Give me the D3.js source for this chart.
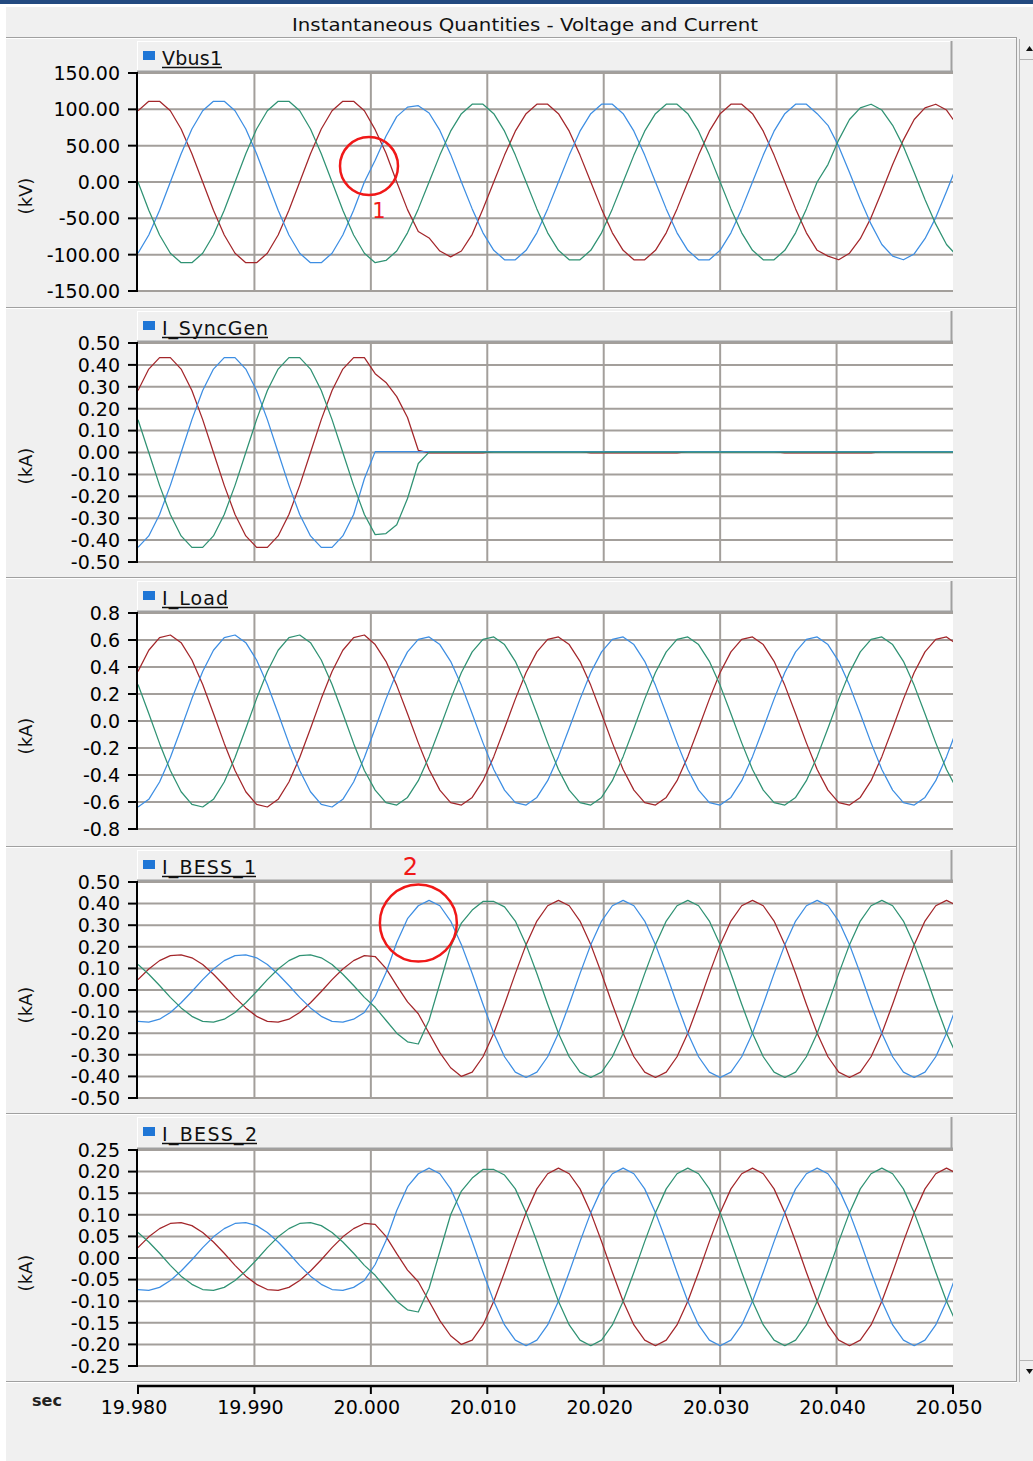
<!DOCTYPE html>
<html>
<head>
<meta charset="utf-8">
<title>Instantaneous Quantities - Voltage and Current</title>
<script src="https://cdn.jsdelivr.net/npm/d3@7"></script>
<style>
  html, body { margin: 0; padding: 0; background: #f0f0f0; }
  svg { display: block; font-family: "DejaVu Sans", Verdana, sans-serif; }
</style>
</head>
<body>
<svg id="chart" width="1033" height="1461"></svg>
<script>
// ---- sample times (s), simulation output step 1/1080 s ----
const timeSec = [19.980000,19.980926,19.981852,19.982778,19.983704,19.984630,19.985556,19.986481,19.987407,19.988333,
19.989259,19.990185,19.991111,19.992037,19.992963,19.993889,19.994815,19.995741,19.996667,19.997593,
19.998519,19.999444,20.000370,20.001296,20.002222,20.003148,20.004074,20.005000,20.005926,20.006852,
20.007778,20.008704,20.009630,20.010556,20.011481,20.012407,20.013333,20.014259,20.015185,20.016111,
20.017037,20.017963,20.018889,20.019815,20.020741,20.021667,20.022593,20.023519,20.024444,20.025370,
20.026296,20.027222,20.028148,20.029074,20.030000,20.030926,20.031852,20.032778,20.033704,20.034630,
20.035556,20.036481,20.037407,20.038333,20.039259,20.040185,20.041111,20.042037,20.042963,20.043889,
20.044815,20.045741,20.046667,20.047593,20.048519,20.049444,20.050370];

const timeTicks = [19.98, 19.99, 20.00, 20.01, 20.02, 20.03, 20.04, 20.05];

// ---- Vbus1 phase voltages (kV) ----
const vbusA = [98,111,111,98,73,39,0,-39,-73,-98,-111,-111,-98,-73,-39,0,39,73,98,111,111,98,
72,40,0,-38,-68,-77,-95,-103,-95,-72,-37,0,
37,70,94,107,107,94,70,37,
0,-37,-70,-94,-107,-107,-94,-70,-37,
0,37,70,94,107,107,94,70,37,
0,-37,-70,-94,
-102,-107,-98,-78,-49,
-13,24,58,86,102,107,99,78];
const vbusB = [-98,-73,-39,0,39,73,98,111,111,98,73,39,0,-39,-73,-98,-111,-111,-98,-73,-39,0,
30,63,90,103,105,95,71,38,0,
-37,-70,-94,-107,-107,-94,-70,-37,0,
37,70,94,107,107,94,70,37,0,
-37,-70,-94,-107,-107,-94,-70,-37,0,
37,70,94,107,107,94,
78,49,13,-24,-58,
-86,-102,-107,-99,-78,-49,-13,24];
const vbusC = [0,-39,-73,-98,-111,-111,-98,-73,-39,0,39,73,98,111,111,98,73,39,0,-39,-73,-98,
-111,-108,-95,-70,-37,
0,37,70,94,107,107,94,70,37,
0,-37,-70,-94,-107,-107,-94,-70,-37,
0,37,70,94,107,107,94,70,37,
0,-37,-70,-94,-107,-107,-94,-70,-37,
0,
24,58,86,102,107,
99,78,49,13,-24,-58,-86,-102];

// ---- synchronous generator phase currents (kA) ----
const syncA = [0.283,0.381,0.433,0.433,0.381,0.283,0.150,0,-0.150,-0.283,-0.381,-0.433,-0.433,-0.381,-0.283,-0.150,0,0.150,0.283,0.381,0.433,0.433,
0.360,0.320,0.255,0.160,0.010,
-0.002,-0.002,-0.002,-0.002,-0.002,-0.002,
0.004,0.004,0.004,0.004,0.004,0.004,0.004,0.004,0.004,
-0.002,-0.002,-0.002,-0.002,-0.002,-0.002,-0.002,-0.002,-0.002,
0.004,0.004,0.004,0.004,0.004,0.004,0.004,0.004,0.004,
-0.002,-0.002,-0.002,-0.002,-0.002,-0.002,-0.002,-0.002,-0.002,
0.004,0.004,0.004,0.004,0.004,0.004,0.004,0.004];
const syncB = [-0.433,-0.381,-0.283,-0.150,0,0.150,0.283,0.381,0.433,0.433,0.381,0.283,0.150,0,-0.150,-0.283,-0.381,-0.433,-0.433,-0.381,-0.283,-0.120,
0.004,0.004,0.004,0.004,0.004,0.004,0.004,0.004,0.004,0.004,0.004,
0.004,0.004,0.004,0.004,0.004,0.004,0.004,0.004,0.004,0.004,0.004,
0.004,0.004,0.004,0.004,0.004,0.004,0.004,0.004,0.004,0.004,0.004,
0.004,0.004,0.004,0.004,0.004,0.004,0.004,0.004,0.004,0.004,0.004,
0.004,0.004,0.004,0.004,0.004,0.004,0.004,0.004,0.004,0.004,0.004];
const syncC = [0.150,0,-0.150,-0.283,-0.381,-0.433,-0.433,-0.381,-0.283,-0.150,0,0.150,0.283,0.381,0.433,0.433,0.381,0.283,0.150,0,-0.150,-0.283,
-0.375,-0.370,-0.330,-0.210,-0.050,
0.002,0.002,0.002,0.002,0.002,0.002,0.002,0.002,0.002,0.002,
0.002,0.002,0.002,0.002,0.002,0.002,0.002,0.002,0.002,0.002,
0.002,0.002,0.002,0.002,0.002,0.002,0.002,0.002,0.002,0.002,
0.002,0.002,0.002,0.002,0.002,0.002,0.002,0.002,0.002,0.002,
0.002,0.002,0.002,0.002,0.002,0.002,0.002,0.002,0.002,0.002];

// ---- load phase currents (kA) ----
const loadA = [0.367,0.524,0.618,0.637,0.580,0.452,0.271,0.056,-0.166,-0.367,-0.524,-0.618,-0.637,-0.580,-0.452,-0.271,-0.056,0.166,0.367,0.524,0.618,0.637,
0.566,0.442,0.264,0.054,-0.162,-0.359,-0.512,-0.604,-0.623,
-0.566,-0.442,-0.264,-0.054,0.162,0.359,0.512,0.604,0.623,
0.566,0.442,0.264,0.054,-0.162,-0.359,-0.512,-0.604,-0.623,
-0.566,-0.442,-0.264,-0.054,0.162,0.359,0.512,0.604,0.623,
0.566,0.442,0.264,0.054,-0.162,-0.359,-0.512,-0.604,-0.623,
-0.566,-0.442,-0.264,-0.054,0.162,0.359,0.512,0.604,0.623,
0.566];
const loadB = [-0.637,-0.580,-0.452,-0.271,-0.056,0.166,0.367,0.524,0.618,0.637,0.580,0.452,0.271,0.056,-0.166,-0.367,-0.524,-0.618,-0.637,-0.580,-0.452,-0.271,
-0.054,0.162,0.359,0.512,0.604,0.623,0.566,0.442,0.264,
0.054,-0.162,-0.359,-0.512,-0.604,-0.623,-0.566,-0.442,-0.264,
-0.054,0.162,0.359,0.512,0.604,0.623,0.566,0.442,0.264,
0.054,-0.162,-0.359,-0.512,-0.604,-0.623,-0.566,-0.442,-0.264,
-0.054,0.162,0.359,0.512,0.604,0.623,0.566,0.442,0.264,
0.054,-0.162,-0.359,-0.512,-0.604,-0.623,-0.566,-0.442,-0.264,
-0.054];
const loadC = [0.271,0.056,-0.166,-0.367,-0.524,-0.618,-0.637,-0.580,-0.452,-0.271,-0.056,0.166,0.367,0.524,0.618,0.637,0.580,0.452,0.271,0.056,-0.166,-0.367,
-0.512,-0.604,-0.623,-0.566,-0.442,-0.264,-0.054,0.162,0.359,
0.512,0.604,0.623,0.566,0.442,0.264,0.054,-0.162,-0.359,
-0.512,-0.604,-0.623,-0.566,-0.442,-0.264,-0.054,0.162,0.359,
0.512,0.604,0.623,0.566,0.442,0.264,0.054,-0.162,-0.359,
-0.512,-0.604,-0.623,-0.566,-0.442,-0.264,-0.054,0.162,0.359,
0.512,0.604,0.623,0.566,0.442,0.264,0.054,-0.162,-0.359,
-0.512];

// ---- BESS 1 phase currents (kA) ----
const bess1A = [0.048,0.097,0.136,0.159,0.163,0.149,0.118,0.073,0.021,-0.034,-0.083,-0.122,-0.145,-0.149,-0.135,-0.104,-0.059,-0.007,0.048,0.097,0.136,0.159,
0.155,0.100,0.020,-0.055,-0.110,-0.200,-0.290,-0.360,-0.400,-0.380,
-0.309,-0.200,-0.066,0.076,0.210,0.319,0.390,0.415,0.390,
0.319,0.210,0.076,-0.066,-0.200,-0.309,-0.380,-0.405,-0.380,
-0.309,-0.200,-0.066,0.076,0.210,0.319,0.390,0.415,0.390,
0.319,0.210,0.076,-0.066,-0.200,-0.309,-0.380,-0.405,-0.380,
-0.309,-0.200,-0.066,0.076,0.210,0.319,0.390,0.415,0.390];
const bess1B = [-0.145,-0.149,-0.135,-0.104,-0.059,-0.007,0.048,0.097,0.136,0.159,0.163,0.149,0.118,0.073,0.021,-0.034,-0.083,-0.122,-0.145,-0.149,-0.135,-0.104,
-0.030,0.080,0.220,0.330,0.390,
0.415,0.390,0.319,0.210,0.076,-0.066,-0.200,-0.309,-0.380,
-0.405,-0.380,-0.309,-0.200,-0.066,0.076,0.210,0.319,0.390,
0.415,0.390,0.319,0.210,0.076,-0.066,-0.200,-0.309,-0.380,
-0.405,-0.380,-0.309,-0.200,-0.066,0.076,0.210,0.319,0.390,
0.415,0.390,0.319,0.210,0.076,-0.066,-0.200,-0.309,-0.380,
-0.405,-0.380,-0.309,-0.200,-0.066];
const bess1C = [0.118,0.073,0.021,-0.034,-0.083,-0.122,-0.145,-0.149,-0.135,-0.104,-0.059,-0.007,0.048,0.097,0.136,0.159,0.163,0.149,0.118,0.073,0.021,-0.034,
-0.080,-0.140,-0.200,-0.240,-0.250,-0.140,0.030,0.200,0.310,0.370,
0.410,0.410,0.385,0.319,0.210,0.076,-0.066,-0.200,-0.309,
-0.380,-0.405,-0.380,-0.309,-0.200,-0.066,0.076,0.210,0.319,
0.390,0.415,0.390,0.319,0.210,0.076,-0.066,-0.200,-0.309,
-0.380,-0.405,-0.380,-0.309,-0.200,-0.066,0.076,0.210,0.319,
0.390,0.415,0.390,0.319,0.210,0.076,-0.066,-0.200,-0.309];

// ---- BESS 2 phase currents (kA) ----
const bess2A = [0.024,0.049,0.068,0.080,0.082,0.075,0.059,0.037,0.011,-0.017,-0.042,-0.061,-0.073,-0.075,-0.068,-0.052,-0.030,-0.004,0.024,0.049,0.068,0.080,
0.078,0.050,0.010,-0.028,-0.055,-0.100,-0.145,-0.180,-0.200,-0.190,
-0.155,-0.100,-0.033,0.038,0.105,0.160,0.195,0.208,0.195,
0.160,0.105,0.038,-0.033,-0.100,-0.155,-0.190,-0.203,-0.190,
-0.155,-0.100,-0.033,0.038,0.105,0.160,0.195,0.208,0.195,
0.160,0.105,0.038,-0.033,-0.100,-0.155,-0.190,-0.203,-0.190,
-0.155,-0.100,-0.033,0.038,0.105,0.160,0.195,0.208,0.195];
const bess2B = [-0.073,-0.075,-0.068,-0.052,-0.030,-0.004,0.024,0.049,0.068,0.080,0.082,0.075,0.059,0.037,0.011,-0.017,-0.042,-0.061,-0.073,-0.075,-0.068,-0.052,
-0.015,0.040,0.110,0.165,0.195,
0.208,0.195,0.160,0.105,0.038,-0.033,-0.100,-0.155,-0.190,
-0.203,-0.190,-0.155,-0.100,-0.033,0.038,0.105,0.160,0.195,
0.208,0.195,0.160,0.105,0.038,-0.033,-0.100,-0.155,-0.190,
-0.203,-0.190,-0.155,-0.100,-0.033,0.038,0.105,0.160,0.195,
0.208,0.195,0.160,0.105,0.038,-0.033,-0.100,-0.155,-0.190,
-0.203,-0.190,-0.155,-0.100,-0.033];
const bess2C = [0.059,0.037,0.011,-0.017,-0.042,-0.061,-0.073,-0.075,-0.068,-0.052,-0.030,-0.004,0.024,0.049,0.068,0.080,0.082,0.075,0.059,0.037,0.011,-0.017,
-0.040,-0.070,-0.100,-0.120,-0.125,-0.070,0.015,0.100,0.155,0.185,
0.205,0.205,0.192,0.160,0.105,0.038,-0.033,-0.100,-0.155,
-0.190,-0.203,-0.190,-0.155,-0.100,-0.033,0.038,0.105,0.160,
0.195,0.208,0.195,0.160,0.105,0.038,-0.033,-0.100,-0.155,
-0.190,-0.203,-0.190,-0.155,-0.100,-0.033,0.038,0.105,0.160,
0.195,0.208,0.195,0.160,0.105,0.038,-0.033,-0.100,-0.155];

// ---- axis ticks and labels ----
const vbusTicks  = [150, 100, 50, 0, -50, -100, -150];
const syncTicks  = [0.5, 0.4, 0.3, 0.2, 0.1, 0, -0.1, -0.2, -0.3, -0.4, -0.5];
const loadTicks  = [0.8, 0.6, 0.4, 0.2, 0, -0.2, -0.4, -0.6, -0.8];
const bess1Ticks = [0.5, 0.4, 0.3, 0.2, 0.1, 0, -0.1, -0.2, -0.3, -0.4, -0.5];
const bess2Ticks = [0.25, 0.2, 0.15, 0.1, 0.05, 0, -0.05, -0.1, -0.15, -0.2, -0.25];

const panelNames = ["Vbus1", "I_SyncGen", "I_Load", "I_BESS_1", "I_BESS_2"];
const panelUnits = ["(kV)", "(kA)", "(kA)", "(kA)", "(kA)"];
const tickDigits = [2, 2, 1, 2, 2];

// red circle call-outs: panel index, time, value, radius (px), label
const callouts = [
  { panel: 0, t: 19.99984, v: 22,   r: 29,   label: "1" },
  { panel: 3, t: 20.00408, v: 0.31, r: 38.5, label: "2" }
];

// ---- drawing ----
const phaseColors = ["#a3262a", "#3d8ee3", "#2f9273"];

const panels = [
  { series: [vbusA, vbusB, vbusC],    ticks: vbusTicks,  sep: 37,   top: 73,   bottom: 291,  nameW: 60 },
  { series: [syncA, syncB, syncC],    ticks: syncTicks,  sep: 307,  top: 343,  bottom: 562,  nameW: 106 },
  { series: [loadA, loadB, loadC],    ticks: loadTicks,  sep: 577,  top: 613,  bottom: 829,  nameW: 66 },
  { series: [bess1A, bess1B, bess1C], ticks: bess1Ticks, sep: 846,  top: 882,  bottom: 1098, nameW: 94 },
  { series: [bess2A, bess2B, bess2C], ticks: bess2Ticks, sep: 1113, top: 1150, bottom: 1366, nameW: 95 }
];

const svg = d3.select("#chart");
const plotLeft = 138, plotRight = 953;
const x = d3.scaleLinear().domain([timeTicks[0], timeTicks[timeTicks.length - 1]]).range([plotLeft, plotRight]);

// plain hyphen-minus for negative tick labels
const numFmt = digits => {
  const f = d3.format("." + digits + "f");
  return v => f(v).replace("\u2212", "-");
};

// window frame
svg.append("rect").attr("width", 1033).attr("height", 1461).attr("fill", "#f0f0f0");
svg.append("rect").attr("x", 0).attr("y", 0).attr("width", 1033).attr("height", 4).attr("fill", "#234a80");
svg.append("rect").attr("x", 0).attr("y", 4).attr("width", 1033).attr("height", 3).attr("fill", "#ffffff");
svg.append("rect").attr("x", 0).attr("y", 4).attr("width", 6).attr("height", 1457).attr("fill", "#ffffff");

// title
svg.append("text")
  .attr("x", 292).attr("y", 30.5)
  .attr("font-size", 18).attr("fill", "#111")
  .attr("textLength", 466).attr("lengthAdjust", "spacingAndGlyphs")
  .text("Instantaneous Quantities - Voltage and Current");

// panel separators
[37, 307, 577, 846, 1113, 1381].forEach(s => {
  svg.append("line").attr("x1", 6).attr("x2", 1017).attr("y1", s + 0.5).attr("y2", s + 0.5)
    .attr("stroke", "#a0a0a0").attr("stroke-width", 1);
  svg.append("line").attr("x1", 6).attr("x2", 1017).attr("y1", s + 1.5).attr("y2", s + 1.5)
    .attr("stroke", "#ffffff").attr("stroke-width", 1);
});

// scrollbar strip
const sb = svg.append("g");
sb.append("line").attr("x1", 1016.5).attr("x2", 1016.5).attr("y1", 37).attr("y2", 1382).attr("stroke", "#a0a0a0");
sb.append("line").attr("x1", 1019.5).attr("x2", 1019.5).attr("y1", 39).attr("y2", 1382).attr("stroke", "#b4b4b4");
sb.append("line").attr("x1", 1020).attr("x2", 1033).attr("y1", 59.5).attr("y2", 59.5).attr("stroke", "#b4b4b4");
sb.append("line").attr("x1", 1020).attr("x2", 1033).attr("y1", 1360.5).attr("y2", 1360.5).attr("stroke", "#b4b4b4");
sb.append("path").attr("d", "M1026,51 L1029.5,46 L1033,51 Z").attr("fill", "#111");
sb.append("path").attr("d", "M1026,1369 L1029.5,1374 L1033,1369 Z").attr("fill", "#111");

const line = d3.line();

panels.forEach((p, i) => {
  const g = svg.append("g");
  const y = d3.scaleLinear()
    .domain([p.ticks[p.ticks.length - 1], p.ticks[0]])
    .range([p.bottom, p.top]);

  // legend header bar
  const lt = p.sep + 4, lb = p.top - 1;
  g.append("rect").attr("x", 137).attr("y", lt).attr("width", 815).attr("height", lb - lt).attr("fill", "#f0f0f0");
  g.append("line").attr("x1", 137).attr("x2", 952).attr("y1", lt + 0.5).attr("y2", lt + 0.5).attr("stroke", "#ffffff");
  g.append("line").attr("x1", 137.5).attr("x2", 137.5).attr("y1", lt).attr("y2", lb).attr("stroke", "#ffffff");
  g.append("line").attr("x1", 951.5).attr("x2", 951.5).attr("y1", lt).attr("y2", lb).attr("stroke", "#a0a0a0").attr("stroke-width", 2);
  g.append("line").attr("x1", 137).attr("x2", 953).attr("y1", lb - 0.5).attr("y2", lb - 0.5).attr("stroke", "#a0a0a0").attr("stroke-width", 2);

  g.append("rect").attr("x", 143).attr("y", p.sep + 14).attr("width", 12).attr("height", 9).attr("fill", "#1f76d6");
  g.append("text")
    .attr("x", 162).attr("y", p.sep + 27.5)
    .attr("font-size", 19).attr("fill", "#111")
    .attr("textLength", p.nameW).attr("lengthAdjust", "spacing")
    .text(panelNames[i]);
  g.append("line").attr("x1", 162).attr("x2", 162 + p.nameW)
    .attr("y1", p.sep + 30.5).attr("y2", p.sep + 30.5)
    .attr("stroke", "#111").attr("stroke-width", 1.5);

  // plot area
  g.append("rect").attr("x", plotLeft).attr("y", p.top).attr("width", plotRight - plotLeft)
    .attr("height", p.bottom - p.top).attr("fill", "#ffffff");

  // grid
  g.selectAll(".hgrid").data(p.ticks).join("line")
    .attr("x1", plotLeft).attr("x2", plotRight)
    .attr("y1", d => y(d)).attr("y2", d => y(d))
    .attr("stroke", "#a39f9b").attr("stroke-width", 2);
  g.selectAll(".vgrid").data(timeTicks.slice(1, -1)).join("line")
    .attr("x1", d => x(d)).attr("x2", d => x(d))
    .attr("y1", p.top).attr("y2", p.bottom)
    .attr("stroke", "#a39f9b").attr("stroke-width", 2);

  // waveforms
  const clipId = "clip" + i;
  svg.append("clipPath").attr("id", clipId).append("rect")
    .attr("x", plotLeft).attr("y", p.top - 2).attr("width", plotRight - plotLeft).attr("height", p.bottom - p.top + 4);
  const wg = g.append("g").attr("clip-path", `url(#${clipId})`);
  p.series.forEach((vals, s) => {
    wg.append("path")
      .attr("d", line(vals.map((v, k) => [x(timeSec[k]), y(v)])))
      .attr("fill", "none")
      .attr("stroke", phaseColors[s])
      .attr("stroke-width", 1.25)
      .attr("stroke-linejoin", "round");
  });

  // y axis
  g.append("line").attr("x1", 137).attr("x2", 137).attr("y1", p.top - 1).attr("y2", p.bottom + 1)
    .attr("stroke", "#000").attr("stroke-width", 2);
  g.selectAll(".ytick").data(p.ticks).join("line")
    .attr("x1", 128).attr("x2", 137).attr("y1", d => y(d)).attr("y2", d => y(d))
    .attr("stroke", "#000").attr("stroke-width", 2);
  const fmt = numFmt(tickDigits[i]);
  g.selectAll(".ylab").data(p.ticks).join("text")
    .attr("x", 120).attr("y", d => y(d)).attr("dy", "0.36em")
    .attr("text-anchor", "end").attr("font-size", 19).attr("fill", "#000")
    .text(d => fmt(d));

  // unit label
  g.append("text")
    .attr("transform", `translate(26,${p.top + 123}) rotate(-90)`)
    .attr("text-anchor", "middle").attr("dy", "0.35em")
    .attr("font-size", 18).attr("fill", "#111")
    .text(panelUnits[i]);

  p.y = y;
});

// time axis
const xa = svg.append("g");
const tfmt = numFmt(3);
xa.append("line").attr("x1", 137).attr("x2", 954).attr("y1", 1386).attr("y2", 1386)
  .attr("stroke", "#000").attr("stroke-width", 2.5);
xa.selectAll(".xtick").data(timeTicks).join("line")
  .attr("x1", d => x(d)).attr("x2", d => x(d)).attr("y1", 1386).attr("y2", 1394)
  .attr("stroke", "#000").attr("stroke-width", 2);
xa.selectAll(".xlab").data(timeTicks).join("text")
  .attr("x", d => x(d) - 4).attr("y", 1414)
  .attr("text-anchor", "middle").attr("font-size", 19).attr("fill", "#000")
  .text(d => tfmt(d));
xa.append("text").attr("x", 47).attr("y", 1406).attr("text-anchor", "middle")
  .attr("font-size", 16).attr("font-weight", "bold").attr("fill", "#222").text("sec");

// call-out circles
callouts.forEach((c, j) => {
  const p = panels[c.panel];
  const cx = x(c.t), cy = p.y(c.v);
  svg.append("circle").attr("cx", cx).attr("cy", cy).attr("r", c.r)
    .attr("fill", "none").attr("stroke", "#f01818").attr("stroke-width", 2.5);
  svg.append("text")
    .attr("x", j === 0 ? cx + 10 : cx - 8)
    .attr("y", j === 0 ? cy + 52 : cy - 48)
    .attr("text-anchor", "middle")
    .attr("font-size", j === 0 ? 21 : 24)
    .attr("fill", "#f01818")
    .text(c.label);
});
</script>
</body>
</html>
